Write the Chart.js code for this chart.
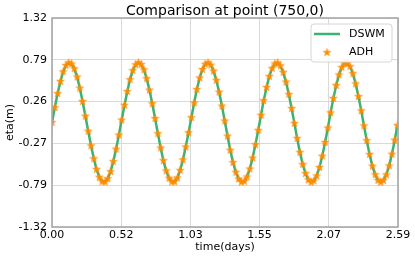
<!DOCTYPE html>
<html>
<head>
<meta charset="utf-8">
<script src="https://cdn.jsdelivr.net/npm/chart.js@4"></script>
<style>
  body { margin: 0; background: #fff; }
  canvas { display: block; }
</style>
</head>
<body>
<canvas id="etaChart" width="415" height="260"></canvas>
<script>
// time (days), ADH output every 30 min
var time = [
    0.000, 0.021, 0.042, 0.063, 0.083, 0.104, 0.125, 0.146, 0.167, 0.188, 0.208, 0.229,
    0.250, 0.271, 0.292, 0.313, 0.333, 0.354, 0.375, 0.396, 0.417, 0.438, 0.458, 0.479,
    0.500, 0.521, 0.542, 0.563, 0.583, 0.604, 0.625, 0.646, 0.667, 0.688, 0.708, 0.729,
    0.750, 0.771, 0.792, 0.813, 0.833, 0.854, 0.875, 0.896, 0.917, 0.938, 0.958, 0.979,
    1.000, 1.021, 1.042, 1.063, 1.083, 1.104, 1.125, 1.146, 1.167, 1.188, 1.208, 1.229,
    1.250, 1.271, 1.292, 1.313, 1.333, 1.354, 1.375, 1.396, 1.417, 1.438, 1.458, 1.479,
    1.500, 1.521, 1.542, 1.563, 1.583, 1.604, 1.625, 1.646, 1.667, 1.688, 1.708, 1.729,
    1.750, 1.771, 1.792, 1.813, 1.833, 1.854, 1.875, 1.896, 1.917, 1.938, 1.958, 1.979,
    2.000, 2.021, 2.042, 2.063, 2.083, 2.104, 2.125, 2.146, 2.167, 2.188, 2.208, 2.229,
    2.250, 2.271, 2.292, 2.313, 2.333, 2.354, 2.375, 2.396, 2.417, 2.438, 2.458, 2.479,
    2.500, 2.521, 2.542, 2.563, 2.583
];

var adhEta = [
    0.000, 0.189, 0.366, 0.519, 0.640, 0.720, 0.754, 0.740, 0.679, 0.575, 0.434, 0.266, 0.080,
    -0.110, -0.294, -0.458, -0.592, -0.691, -0.746, -0.752, -0.709, -0.621, -0.494, -0.337, -0.159,
    0.031, 0.218, 0.392, 0.541, 0.656, 0.729, 0.755, 0.733, 0.665, 0.554, 0.409, 0.237, 0.050,
    -0.141, -0.322, -0.482, -0.611, -0.703, -0.750, -0.748, -0.699, -0.605, -0.472, -0.309, -0.129,
    0.061, 0.247, 0.418, 0.562, 0.670, 0.736, 0.755, 0.725, 0.650, 0.533, 0.383, 0.208, 0.019,
    -0.171, -0.350, -0.506, -0.628, -0.714, -0.753, -0.744, -0.687, -0.587, -0.450, -0.281, -0.099,
    0.091, 0.276, 0.443, 0.582, 0.684, 0.742, 0.753, 0.716, 0.634, 0.511, 0.356, 0.178, -0.011,
    -0.200, -0.377, -0.529, -0.645, -0.724, -0.755, -0.738, -0.675, -0.568, -0.425, -0.252, -0.069,
    0.122, 0.304, 0.468, 0.601, 0.696, 0.747, 0.750, 0.706, 0.617, 0.488, 0.328, 0.148, -0.042,
    -0.229, -0.403, -0.551, -0.660, -0.732, -0.755, -0.731, -0.661, -0.548, -0.400, -0.223, -0.038
];

// DSWM lies on top of ADH at this scale
var dswmEta = adhEta;

var xTicks = [0, 0.5175, 1.035, 1.5525, 2.07, 2.5875];
var xTickLabels = ['0.00', '0.52', '1.03', '1.55', '2.07', '2.59'];
var yTicks = [-1.32, -0.792, -0.264, 0.264, 0.792, 1.32];
var yTickLabels = ['-1.32', '-0.79', '-0.27', '0.26', '0.79', '1.32'];

var FONT = 'DejaVu Sans';
var GREEN = 'rgb(60,179,113)';
var ORANGE = 'rgb(255,140,0)';

function makeStar(r) {
    var c = document.createElement('canvas');
    var s = Math.ceil(r * 2 + 2);
    c.width = s;
    c.height = s;
    var g = c.getContext('2d');
    g.beginPath();
    for (var i = 0; i < 10; i++) {
        var rad = i % 2 === 0 ? r : r * 0.4;
        var a = -Math.PI / 2 + i * Math.PI / 5;
        g.lineTo(s / 2 + rad * Math.cos(a), s / 2 + rad * Math.sin(a));
    }
    g.closePath();
    g.fillStyle = ORANGE;
    g.fill();
    g.lineWidth = 0.6;
    g.strokeStyle = 'rgba(255,140,0,0.7)';
    g.stroke();
    return c;
}
var star = makeStar(4.2);

function points(ys) {
    return time.map(function (t, i) { return {x: t, y: ys[i]}; });
}

var extras = {
    id: 'extras',
    afterDatasetsDraw: function (chart) {
        var ctx = chart.ctx;
        var a = chart.chartArea;
        ctx.save();
        // spines
        ctx.strokeStyle = '#a8a8a8';
        ctx.lineWidth = 1.6;
        ctx.strokeRect(a.left, a.top, a.right - a.left, a.bottom - a.top);

        // title over the axes
        ctx.fillStyle = '#000';
        ctx.font = '14px "' + FONT + '"';
        ctx.textAlign = 'center';
        ctx.textBaseline = 'alphabetic';
        ctx.fillText('Comparison at point (750,0)', (a.left + a.right) / 2, 15);

        // legend
        ctx.beginPath();
        ctx.roundRect(311, 24, 81, 38, 3);
        ctx.fillStyle = 'rgba(255,255,255,0.85)';
        ctx.fill();
        ctx.strokeStyle = '#d6d6d6';
        ctx.lineWidth = 1;
        ctx.stroke();

        ctx.beginPath();
        ctx.moveTo(314, 34);
        ctx.lineTo(340, 34);
        ctx.strokeStyle = GREEN;
        ctx.lineWidth = 2.5;
        ctx.stroke();
        ctx.drawImage(star, 327 - star.width / 2, 52.5 - star.height / 2);

        ctx.fillStyle = '#000';
        ctx.font = '11px "' + FONT + '"';
        ctx.textAlign = 'left';
        ctx.textBaseline = 'middle';
        ctx.fillText('DSWM', 349, 34);
        ctx.fillText('ADH', 349, 52.5);
        ctx.restore();
    }
};

var etaChartCanvas = document.getElementById('etaChart').getContext('2d');
var etaChart = new Chart(etaChartCanvas, {
    type: 'line',
    data: {
        datasets: [{
            label: 'ADH',
            data: points(adhEta),
            showLine: false,
            pointStyle: star,
            pointRadius: 4,
            order: 0,
        }, {
            label: 'DSWM',
            data: points(dswmEta),
            borderColor: GREEN,
            borderWidth: 2.5,
            pointRadius: 0,
            fill: false,
            tension: 0,
            order: 1,
        }],
    },
    options: {
        responsive: false,
        animation: false,
        layout: {
            padding: {top: 18, right: 17, left: 0, bottom: 0},
        },
        plugins: {
            legend: {display: false},
            title: {display: false},
            tooltip: {enabled: false},
        },
        scales: {
            x: {
                type: 'linear',
                min: 0,
                max: 2.5875,
                afterBuildTicks: function (scale) {
                    scale.ticks = xTicks.map(function (v) { return {value: v}; });
                },
                afterFit: function (scale) { scale.height = 33; },
                ticks: {
                    autoSkip: false,
                    maxRotation: 0,
                    padding: 2,
                    color: '#000',
                    font: {family: FONT, size: 11},
                    callback: function (v, i) { return xTickLabels[i]; },
                },
                grid: {color: '#d9d9d9', lineWidth: 1, drawTicks: false},
                border: {display: false},
                title: {
                    display: true,
                    text: 'time(days)',
                    color: '#000',
                    font: {family: FONT, size: 11},
                    padding: {top: 0, bottom: 6},
                },
            },
            y: {
                type: 'linear',
                min: -1.32,
                max: 1.32,
                afterBuildTicks: function (scale) {
                    scale.ticks = yTicks.map(function (v) { return {value: v}; });
                },
                afterFit: function (scale) { scale.width = 52; },
                ticks: {
                    autoSkip: false,
                    padding: 5,
                    color: '#000',
                    font: {family: FONT, size: 11},
                    callback: function (v, i) { return yTickLabels[i]; },
                },
                grid: {color: '#d9d9d9', lineWidth: 1, drawTicks: false},
                border: {display: false},
                title: {
                    display: true,
                    text: 'eta(m)',
                    color: '#000',
                    font: {family: FONT, size: 11},
                    padding: {top: 4, bottom: 0},
                },
            },
        },
    },
    plugins: [extras],
});
</script>
</body>
</html>
